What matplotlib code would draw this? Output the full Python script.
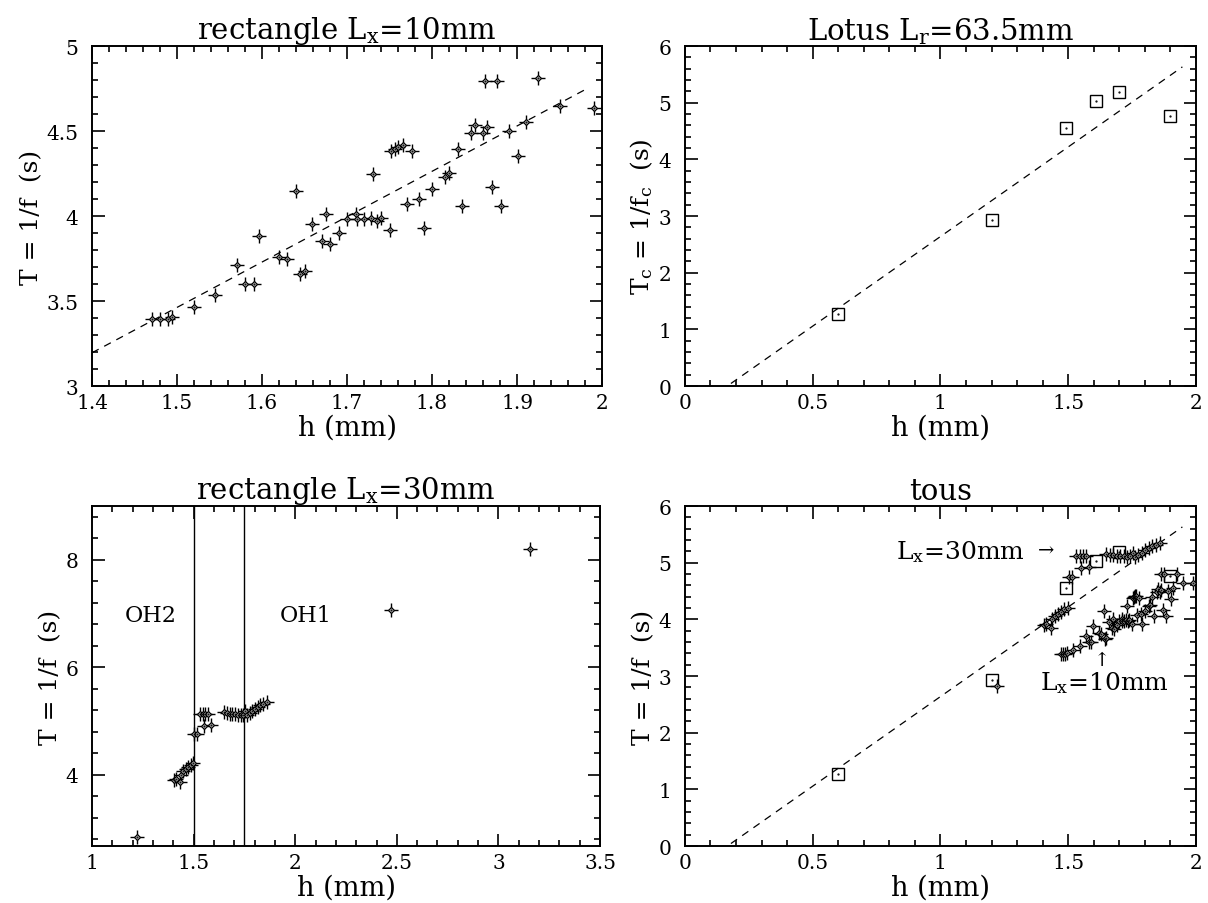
import numpy as np
import matplotlib
matplotlib.use("Agg")
import matplotlib.pyplot as plt
from matplotlib.ticker import MultipleLocator, FuncFormatter

plt.rcParams['font.family'] = ['DejaVu Serif']
plt.rcParams['mathtext.fontset'] = 'dejavuserif'

# rectangle Lx=10mm
h10 = [1.470, 1.480, 1.489, 1.494, 1.520, 1.545, 1.570, 1.580, 1.590, 1.596,
       1.620, 1.629, 1.640, 1.645, 1.650, 1.659, 1.670, 1.675, 1.680, 1.690,
       1.700, 1.710, 1.712, 1.720, 1.728, 1.730, 1.735, 1.740, 1.750, 1.752,
       1.756, 1.760, 1.766, 1.770, 1.776, 1.785, 1.790, 1.800, 1.815, 1.820,
       1.830, 1.835, 1.846, 1.850, 1.860, 1.862, 1.865, 1.870, 1.876, 1.881,
       1.890, 1.901, 1.911, 1.925, 1.950, 1.990]
T10 = [3.396, 3.392, 3.392, 3.404, 3.467, 3.535, 3.712, 3.602, 3.602, 3.882,
       3.761, 3.747, 4.147, 3.657, 3.675, 3.955, 3.853, 4.010, 3.837, 3.898,
       3.980, 4.012, 3.980, 3.980, 3.986, 4.245, 3.969, 3.988, 3.920, 4.382,
       4.396, 4.406, 4.416, 4.073, 4.380, 4.098, 3.927, 4.157, 4.231, 4.251,
       4.396, 4.059, 4.490, 4.533, 4.490, 4.794, 4.525, 4.173, 4.794, 4.059,
       4.498, 4.353, 4.555, 4.810, 4.647, 4.637]

# rectangle Lx=30mm
h30 = [1.220, 1.405, 1.414, 1.431, 1.436, 1.448, 1.461, 1.473, 1.485, 1.498,
       1.503, 1.515, 1.532, 1.546, 1.557, 1.569, 1.549, 1.583, 1.650, 1.664,
       1.677, 1.691, 1.704, 1.718, 1.731, 1.742, 1.752, 1.762, 1.775, 1.789,
       1.802, 1.816, 1.829, 1.843, 1.860, 2.471, 3.154]
T30 = [2.834, 3.905, 3.917, 3.854, 4.000, 4.064, 4.096, 4.140, 4.185, 4.210,
       4.752, 4.752, 5.127, 5.127, 5.127, 5.127, 4.904, 4.924, 5.159, 5.146,
       5.134, 5.127, 5.127, 5.115, 5.102, 5.115, 5.178, 5.102, 5.140, 5.178,
       5.229, 5.267, 5.293, 5.318, 5.344, 7.057, 8.197]

# Lotus Lr=63.5mm
hL = [0.600, 1.202, 1.490, 1.610, 1.700, 1.900]
TL = [1.276, 2.935, 4.547, 5.024, 5.188, 4.759]

# dashed fits: (slope, intercept, hmin, hmax)
fit10 = (2.669, -0.541, 1.4, 1.985)
fitL = (3.163, -0.525, 0.18, 1.947)


def stars(ax, x, y):
    ax.plot(x, y, ls='none', marker='+', ms=10.5, mew=1.0, color='k', zorder=3)
    ax.plot(x, y, ls='none', marker='D', ms=3.0, mew=0.9, mfc='white', mec='k', zorder=4)
    ax.plot(x, y, ls='none', marker='.', ms=1.2, color='k', zorder=5)


def squares(ax, x, y):
    ax.plot(x, y, ls='none', marker='s', ms=9.2, mew=1.0, mfc='none', mec='k', zorder=3)
    ax.plot(x, y, ls='none', marker='.', ms=1.2, color='k', zorder=3)


def fitline(ax, f):
    a, b, x0, x1 = f
    xx = np.array([x0, x1])
    ax.plot(xx, a * xx + b, ls=(0, (6, 5)), lw=0.9, color='k')


def style(ax, xmaj, xmin, ymaj, ymin):
    ax.xaxis.set_major_locator(MultipleLocator(xmaj))
    ax.xaxis.set_minor_locator(MultipleLocator(xmin))
    ax.yaxis.set_major_locator(MultipleLocator(ymaj))
    ax.yaxis.set_minor_locator(MultipleLocator(ymin))
    fmt = FuncFormatter(lambda v, p: '%g' % round(v, 6))
    ax.xaxis.set_major_formatter(fmt)
    ax.yaxis.set_major_formatter(fmt)
    ax.tick_params(which='both', direction='in', top=True, right=True, labelsize=14.5, width=1.2)
    ax.tick_params(which='major', length=9)
    ax.tick_params(which='minor', length=4.5)
    ax.tick_params(axis='x', pad=5)
    ax.tick_params(axis='y', pad=10)
    for s in ax.spines.values():
        s.set_linewidth(1.4)
    ax.set_xlabel('h (mm)', fontsize=19.5, labelpad=1)


fig = plt.figure(figsize=(12.08, 9.04), dpi=100)
ax1 = fig.add_axes([0.0762, 0.5719, 0.4222, 0.376])
ax2 = fig.add_axes([0.5670, 0.5719, 0.4230, 0.376])
ax3 = fig.add_axes([0.0762, 0.0630, 0.4205, 0.376])
ax4 = fig.add_axes([0.5670, 0.0630, 0.4230, 0.376])

# top left
fitline(ax1, fit10)
stars(ax1, h10, T10)
ax1.set_xlim(1.4, 2)
ax1.set_ylim(3, 5)
style(ax1, 0.1, 0.02, 0.5, 0.1)
ax1.set_ylabel('T = 1/f  (s)', fontsize=18, labelpad=2)
ax1.set_title(r'rectangle L$_{\rm x}$=10mm', fontsize=21, pad=5)

# top right
fitline(ax2, fitL)
squares(ax2, hL, TL)
ax2.set_xlim(0, 2)
ax2.set_ylim(0, 6)
style(ax2, 0.5, 0.1, 1, 0.2)
ax2.set_ylabel(r'T$_{\rm c}$ = 1/f$_{\rm c}$  (s)', fontsize=18, labelpad=2)
ax2.set_title(r'Lotus L$_{\rm r}$=63.5mm', fontsize=21, pad=5)

# bottom left
stars(ax3, h30, T30)
ax3.axvline(1.5, color='k', lw=1.0)
ax3.axvline(1.75, color='k', lw=1.0)
ax3.text(1.29, 6.98, 'OH2', fontsize=16, ha='center', va='center')
ax3.text(2.05, 6.98, 'OH1', fontsize=16, ha='center', va='center')
ax3.set_xlim(1, 3.5)
ax3.set_ylim(2.67, 9.0)
style(ax3, 0.5, 0.1, 2, 0.4)
ax3.set_ylabel('T = 1/f  (s)', fontsize=18, labelpad=2)
ax3.set_title(r'rectangle L$_{\rm x}$=30mm', fontsize=21, pad=5)

# bottom right: all together
fitline(ax4, fitL)
squares(ax4, hL, TL)
stars(ax4, h10, T10)
stars(ax4, h30, T30)
ax4.text(1.33, 5.2, r'L$_{\rm x}$=30mm', fontsize=18, ha='right', va='center')
ax4.text(1.412, 5.23, '→', fontsize=14, ha='center', va='center')
ax4.text(1.634, 3.28, '↑', fontsize=14, ha='center', va='center')
ax4.text(1.39, 2.89, r'L$_{\rm x}$=10mm', fontsize=18, ha='left', va='center')
ax4.set_xlim(0, 2)
ax4.set_ylim(0, 6)
style(ax4, 0.5, 0.1, 1, 0.2)
ax4.set_ylabel('T = 1/f  (s)', fontsize=18, labelpad=2)
ax4.set_title('tous', fontsize=21, pad=5)

fig.savefig('out.png', dpi=100)
